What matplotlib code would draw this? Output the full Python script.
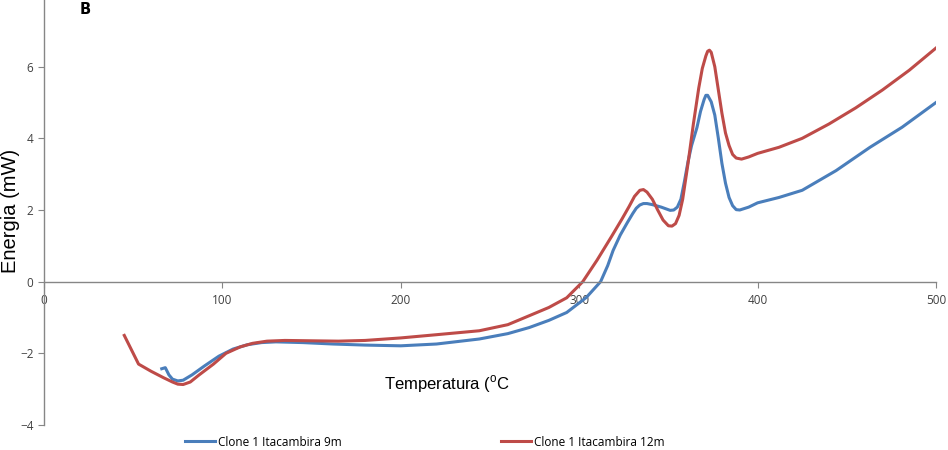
import matplotlib
matplotlib.use("Agg")
import matplotlib.pyplot as plt

# data (DSC curves)
temp_9m = [66, 68, 70, 72, 75, 78, 83, 90, 98, 106, 114, 122, 130, 145, 162, 180,
           200, 220, 244, 260, 272, 283, 293, 304, 312, 316, 319, 323, 327, 330,
           332, 334, 336, 338, 341, 346, 351, 353, 355, 357, 359, 361, 363, 366,
           368, 370, 371, 372, 374, 376, 378, 380, 382, 384, 386, 388, 390, 395,
           400, 412, 425, 444, 463, 481, 500]
energia_9m = [-2.43, -2.4, -2.6, -2.72, -2.77, -2.75, -2.6, -2.35, -2.08, -1.88,
              -1.76, -1.7, -1.68, -1.7, -1.74, -1.77, -1.79, -1.74, -1.6, -1.45,
              -1.28, -1.08, -0.86, -0.44, 0.0, 0.45, 0.87, 1.3, 1.65, 1.9, 2.05,
              2.14, 2.18, 2.18, 2.15, 2.08, 1.99, 2.0, 2.08, 2.3, 2.8, 3.35, 3.8,
              4.3, 4.75, 5.08, 5.2, 5.2, 5.02, 4.65, 4.0, 3.3, 2.75, 2.35, 2.12,
              2.01, 2.0, 2.08, 2.2, 2.35, 2.55, 3.1, 3.75, 4.31, 5.0]

temp_12m = [45, 49, 53, 60, 67, 72, 75, 78, 82, 87, 95, 102, 110, 117, 125, 135,
            150, 165, 180, 200, 220, 244, 260, 272, 283, 293, 302, 310, 318, 324,
            328, 331, 334, 336, 338, 341, 344, 347, 350, 352, 354, 356, 358, 361,
            364, 367, 369, 371, 372, 373, 374, 376, 378, 380, 382, 384, 386, 388,
            391, 395, 400, 412, 425, 440, 455, 470, 485, 500]
energia_12m = [-1.5, -1.9, -2.3, -2.5, -2.68, -2.8, -2.86, -2.87, -2.8, -2.6, -2.3,
               -2.0, -1.82, -1.72, -1.66, -1.64, -1.65, -1.66, -1.64, -1.57, -1.48,
               -1.37, -1.2, -0.95, -0.72, -0.45, 0.0, 0.6, 1.25, 1.75, 2.1, 2.38,
               2.55, 2.57, 2.5, 2.3, 2.0, 1.72, 1.56, 1.55, 1.62, 1.85, 2.3, 3.3,
               4.4, 5.4, 5.95, 6.3, 6.43, 6.46, 6.4, 6.0, 5.35, 4.7, 4.15, 3.8,
               3.55, 3.45, 3.42, 3.48, 3.58, 3.75, 4.0, 4.4, 4.85, 5.35, 5.9, 6.52]

labels = ["Clone 1 Itacambira 9m", "Clone 1 Itacambira 12m"]
x_ticks = [0, 100, 200, 300, 400, 500]
y_ticks = [-4, -2, 0, 2, 4, 6, 8]

plt.rcParams["mathtext.fontset"] = "custom"
plt.rcParams["mathtext.rm"] = "Liberation Sans"

fig = plt.figure(figsize=(9.48, 4.5), dpi=100)
ax = fig.add_axes([44 / 948, 25 / 450, 892 / 948, 430 / 450])

ax.plot(temp_9m, energia_9m, color="#4a7ebb", lw=2.2, label=labels[0])
ax.plot(temp_12m, energia_12m, color="#be4b48", lw=2.2, label=labels[1])

ax.set_xlim(0, 500)
ax.set_ylim(-4, 8)
ax.set_xticks(x_ticks)
ax.set_yticks(y_ticks)

ax.spines["top"].set_visible(False)
ax.spines["right"].set_visible(False)
ax.spines["bottom"].set_position(("data", 0))
for s in ("left", "bottom"):
    ax.spines[s].set_color("#868686")
    ax.spines[s].set_linewidth(1.0)
ax.tick_params(colors="#868686", labelcolor="#404040", labelsize=8.5, length=4)
ax.tick_params(axis="x", pad=5)
for t in ax.get_xticklabels() + ax.get_yticklabels():
    t.set_family("Open Sans")

fig.text(85 / 948, 1 - 10 / 450, "B", fontsize=10.5, fontweight="bold",
         family="DejaVu Sans", ha="center", va="center")
fig.text(11 / 948, 1 - 211 / 450, "Energia (mW)", rotation=90, fontsize=14.5,
         family="Liberation Sans", ha="center", va="center")
fig.text(447 / 948, 1 - 384 / 450, r"Temperatura ($^{\rm o}$C", fontsize=12,
         family="Liberation Sans", ha="center", va="center")

fig.legend(loc="center", bbox_to_anchor=(425 / 948, 8 / 450), ncol=2,
           frameon=False, handlelength=2.5, handletextpad=0.3, columnspacing=13.5,
           prop={"family": "Open Sans", "size": 8.5})

fig.savefig("out.png", dpi=100)
